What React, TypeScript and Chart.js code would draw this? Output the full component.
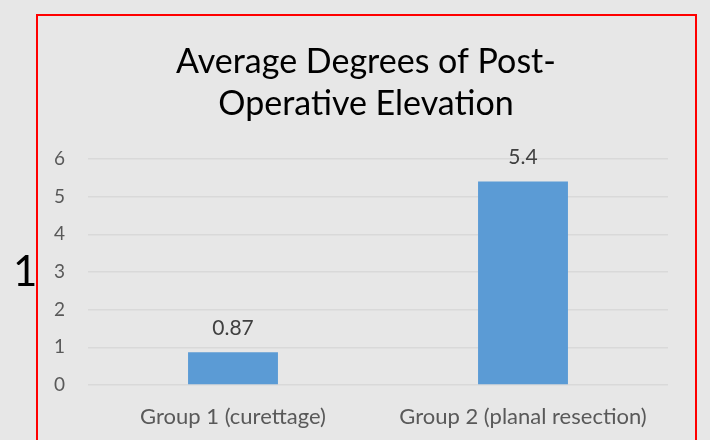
import React, { useEffect, useRef } from "react";
import { Chart, registerables } from "chart.js";

Chart.register(...registerables);

const categories = ["Group 1 (curettage)", "Group 2 (planal resection)"];
const values = [0.87, 5.4];
const titleLines = ["Average Degrees of Post-", "Operative Elevation"];
const yMin = 0;
const yMax = 6;
const yStep = 1;
const sideLabel = "1";

const FONT = "Lato, 'Open Sans', sans-serif";

const dataLabelPlugin = {
  id: "dataLabels",
  afterDatasetsDraw(chart: any) {
    const ctx = chart.ctx;
    const meta = chart.getDatasetMeta(0);
    ctx.save();
    ctx.font = `21px ${FONT}`;
    ctx.fillStyle = "#404040";
    ctx.textAlign = "center";
    ctx.textBaseline = "middle";
    meta.data.forEach((bar: any, i: number) => {
      ctx.fillText(String(values[i]), bar.x, bar.y - 24);
    });
    ctx.restore();
  },
};

export default function App() {
  const ref = useRef<HTMLCanvasElement | null>(null);

  useEffect(() => {
    if (!ref.current) return;
    const chart = new Chart(ref.current, {
      type: "bar",
      data: {
        labels: categories,
        datasets: [
          {
            data: values,
            backgroundColor: "#5b9bd5",
            borderWidth: 0,
            barPercentage: 0.31,
            categoryPercentage: 1,
          },
        ],
      },
      options: {
        animation: false,
        responsive: false,
        maintainAspectRatio: false,
        layout: { padding: { left: 37, right: 15, top: 0, bottom: 0 } },
        plugins: {
          legend: { display: false },
          tooltip: { enabled: false },
          title: {
            display: true,
            text: titleLines,
            color: "#000000",
            font: { family: FONT, size: 34, weight: "normal", lineHeight: 1.235 },
            padding: { top: 41, bottom: 34 },
          },
        },
        scales: {
          x: {
            grid: { display: false, drawTicks: false },
            border: { display: false },
            ticks: { color: "#595959", font: { family: FONT, size: 22 }, padding: 19 },
            afterFit: (s: any) => {
              s.height = 55;
            },
          },
          y: {
            min: yMin,
            max: yMax,
            ticks: { stepSize: yStep, color: "#595959", font: { family: FONT, size: 19 }, padding: 23 },
            grid: { color: "#d9d9d9", lineWidth: 1.5, drawTicks: false },
            border: { display: false },
            afterFit: (s: any) => {
              s.width = 51;
            },
          },
          y2: {
            position: "right",
            display: true,
            grid: { display: false, drawTicks: false },
            border: { display: false },
            ticks: { display: false },
            afterFit: (s: any) => {
              s.width = 27;
            },
          },
        },
      } as any,
      plugins: [dataLabelPlugin],
    });
    return () => chart.destroy();
  }, []);

  return (
    <div
      style={{
        position: "fixed",
        left: 0,
        top: 0,
        width: 710,
        height: 440,
        background: "#e7e7e7",
        overflow: "hidden",
      }}
    >
      <canvas
        ref={ref}
        width={710}
        height={440}
        style={{ position: "absolute", left: 0, top: 0, width: 710, height: 440 }}
      />
      <div
        style={{
          position: "absolute",
          left: 36,
          top: 14,
          width: 657,
          height: 440,
          border: "2px solid #ff0000",
          pointerEvents: "none",
        }}
      />
      <div
        style={{
          position: "absolute",
          left: 13,
          top: 249,
          fontFamily: FONT,
          fontSize: 42,
          lineHeight: "42px",
          color: "#000000",
        }}
      >
        {sideLabel}
      </div>
    </div>
  );
}
